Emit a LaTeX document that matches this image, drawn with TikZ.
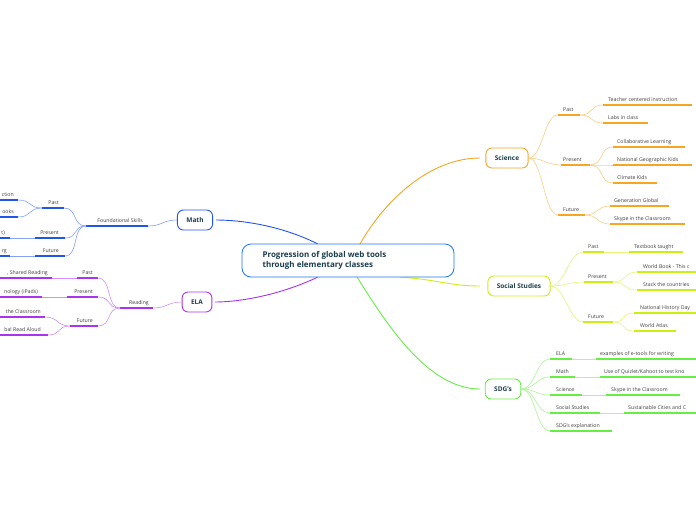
\documentclass[tikz,border=0pt]{standalone}
\usepackage{fontspec}
\setmainfont{Open Sans}
\definecolor{cor}{HTML}{F5A623}
\definecolor{cyl}{HTML}{CCEE11}
\definecolor{cgr}{HTML}{66EE44}
\definecolor{cbl}{HTML}{2255EE}
\definecolor{cpu}{HTML}{AA33EE}
\definecolor{ctx}{HTML}{1A3D4D}
\tikzset{
 mainbox/.style={draw=#1,line width=0.9pt,rounded corners=6pt,fill=white,font=\fontsize{6.5}{7}\selectfont\bfseries,text=ctx,minimum height=20pt,inner xsep=9pt},
 lbl/.style={font=\fontsize{5.2}{6}\selectfont,text=black!75,inner sep=0pt},
 ul/.style={line width=1.3pt,draw=#1},
 cn/.style={line width=0.6pt,draw=#1!55},
 cbox/.style={draw=cbl!80!cyan,line width=0.8pt,rounded corners=9pt,minimum width=212pt,minimum height=33pt,fill=white},
 ctext/.style={font=\fontsize{8}{9.5}\selectfont\bfseries,text=ctx,align=left,anchor=west},
}
\newcommand{\ulab}[7]{%
 \coordinate (#1-l) at (#2,#4); \coordinate (#1-r) at (#3,#4);
 \draw[ul=#7] (#1-l) -- (#1-r);
 \node[lbl,anchor=base west] (#1) at (#5,#4-4) {#6};}
\newcommand{\rlab}[7]{%
 \coordinate (#1-l) at (#2,#4); \coordinate (#1-r) at (#3,#4);
 \draw[ul=#7] (#1-l) -- (#1-r);
 \node[lbl,anchor=base east] (#1) at (#5,#4-4) {#6};}
\newcommand{\cc}[3]{\draw[cn=#3] (#1) .. controls +(14,0) and +(-14,0) .. (#2);}
\begin{document}
\begin{tikzpicture}[x=1pt,y=-1pt]
\useasboundingbox (0,0) rectangle (696,520);
\clip (0,0) rectangle (696,520);
\fill[white] (0,0) rectangle (696,520);
\coordinate (cs) at (360,244); \coordinate (css) at (400,277); \coordinate (csd) at (357,277);
\coordinate (cm) at (318,244); \coordinate (ce) at (318,277);
\coordinate (sciw) at (480,158); \coordinate (ssw) at (480,286); \coordinate (sdgw) at (480,389);
\coordinate (mathe) at (216,220); \coordinate (elae) at (215,302);
\draw[cor,line width=0.9pt] (cs) .. controls (385,200) and (430,158) .. (sciw);
\draw[cyl,line width=0.9pt] (css) .. controls (440,280) and (450,286) .. (ssw);
\draw[cgr,line width=0.9pt] (csd) .. controls (390,330) and (430,389) .. (sdgw);
\draw[cbl,line width=0.9pt] (cm) .. controls (280,225) and (240,220) .. (mathe);
\draw[cpu,line width=0.9pt] (ce) .. controls (280,295) and (240,302) .. (elae);
\node[cbox] (c) at (348,260.5) {};
\node[ctext] (ct) at (259,260.5) {Progression of global web tools\\through elementary classes};
\node[mainbox=cor] (sci) at (507,158) {Science};
\node[mainbox=cyl] (ss) at (519,286) {Social Studies};
\node[mainbox=cgr] (sdg) at (503,389) {SDG's};
\node[mainbox=cbl] (math) at (195,220) {Math};
\node[mainbox=cpu] (ela) at (197,302) {ELA};
% Science
\ulab{sp}{558}{580}{115}{563}{Past}{cor}
\ulab{spr}{561}{590}{165}{563}{Present}{cor}
\ulab{sf}{558}{585}{215}{563}{Future}{cor}
\ulab{s1}{603}{692}{105}{608}{Teacher centered instruction}{cor}
\ulab{s2}{603}{648}{123}{608}{Labs in class}{cor}
\ulab{s3}{613}{685}{147}{617}{Collaborative Learning}{cor}
\ulab{s4}{613}{692}{165}{617}{National Geographic Kids}{cor}
\ulab{s5}{613}{657}{183}{617}{Climate Kids}{cor}
\ulab{s6}{610}{669}{206}{614}{Generation Global}{cor}
\ulab{s7}{610}{685}{224}{614}{Skype in the Classroom}{cor}
\foreach \a in {sp,spr,sf} {\cc{sci.east}{\a-l}{cor}}
\cc{sp-r}{s1-l}{cor}\cc{sp-r}{s2-l}{cor}
\cc{spr-r}{s3-l}{cor}\cc{spr-r}{s4-l}{cor}\cc{spr-r}{s5-l}{cor}
\cc{sf-r}{s6-l}{cor}\cc{sf-r}{s7-l}{cor}
% Social studies
\ulab{tp}{583}{604}{252}{588}{Past}{cyl}
\ulab{tpr}{584}{613}{282}{588}{Present}{cyl}
\ulab{tf}{583}{613}{322}{588}{Future}{cyl}
\ulab{t1}{629}{683}{252}{634}{Textbook taught}{cyl}
\ulab{t2}{637}{696}{272}{643}{World Book - This c}{cyl}
\ulab{t3}{637}{696}{290}{643}{Stack the countries}{cyl}
\ulab{t4}{634}{696}{313}{640}{National History Day}{cyl}
\ulab{t5}{634}{676}{331}{640}{World Atlas}{cyl}
\foreach \a in {tp,tpr,tf} {\cc{ss.east}{\a-l}{cyl}}
\draw[cn=cyl] (tp-r) -- (t1-l);
\cc{tpr-r}{t2-l}{cyl}\cc{tpr-r}{t3-l}{cyl}
\cc{tf-r}{t4-l}{cyl}\cc{tf-r}{t5-l}{cyl}
% SDG
\ulab{g1}{550}{572}{359}{556}{ELA}{cgr}
\ulab{g2}{550}{575}{377}{556}{Math}{cgr}
\ulab{g3}{550}{582}{395}{556}{Science}{cgr}
\ulab{g4}{550}{600}{413}{556}{Social Studies}{cgr}
\ulab{g5}{550}{612}{431}{556}{SDG's explanation}{cgr}
\ulab{h1}{596}{696}{359}{600}{examples of e-tools for writing}{cgr}
\ulab{h2}{600}{696}{377}{604}{Use of Quizlet/Kahoot to test kno}{cgr}
\ulab{h3}{606}{680}{395}{611}{Skype in the Classroom}{cgr}
\ulab{h4}{624}{696}{413}{628}{Sustainable Cities and C}{cgr}
\foreach \a in {g1,g2,g3,g4,g5} {\cc{sdg.east}{\a-l}{cgr}}
\foreach \a in {1,2,3,4} {\draw[cn=cgr] (g\a-r) -- (h\a-l);}
% Math
\rlab{fs}{86}{148}{226}{143}{Foundational Skills}{cbl}
\rlab{mp}{42}{64}{208}{59}{Past}{cbl}
\rlab{mpr}{35}{65}{238}{59}{Present}{cbl}
\rlab{mf}{35}{65}{256}{59}{Future}{cbl}
\rlab{m1}{0}{18}{200}{14}{ction}{cbl}
\rlab{m2}{0}{18}{217}{14}{ooks}{cbl}
\rlab{m3}{0}{10}{238}{5}{t)}{cbl}
\rlab{m4}{0}{10}{256}{7}{rg}{cbl}
\draw[cn=cbl] (fs-r) .. controls +(14,0) and +(-14,0) .. (math.west);
\foreach \a in {mp,mpr,mf} {\cc{\a-r}{fs-l}{cbl}}
\cc{m1-r}{mp-l}{cbl}\cc{m2-r}{mp-l}{cbl}
\draw[cn=cbl] (m3-r) -- (mpr-l); \draw[cn=cbl] (m4-r) -- (mf-l);
% ELA
\rlab{rd}{120}{153}{308}{149}{Reading}{cpu}
\rlab{ep}{77}{98}{278}{93}{Past}{cpu}
\rlab{epr}{67}{98}{297}{93}{Present}{cpu}
\rlab{ef}{70}{98}{326}{93}{Future}{cpu}
\rlab{e1}{0}{52}{278}{48}{,\ Shared Reading}{cpu}
\rlab{e2}{0}{42}{297}{38}{nology (iPads)}{cpu}
\rlab{e3}{0}{45}{317}{41}{the Classroom}{cpu}
\rlab{e4}{0}{48}{335}{41}{bal\ Read Aloud}{cpu}
\draw[cn=cpu] (rd-r) .. controls +(14,0) and +(-14,0) .. (ela.west);
\foreach \a in {ep,epr,ef} {\cc{\a-r}{rd-l}{cpu}}
\draw[cn=cpu] (e1-r) -- (ep-l); \draw[cn=cpu] (e2-r) -- (epr-l);
\cc{e3-r}{ef-l}{cpu}\cc{e4-r}{ef-l}{cpu}
\end{tikzpicture}
\end{document}
